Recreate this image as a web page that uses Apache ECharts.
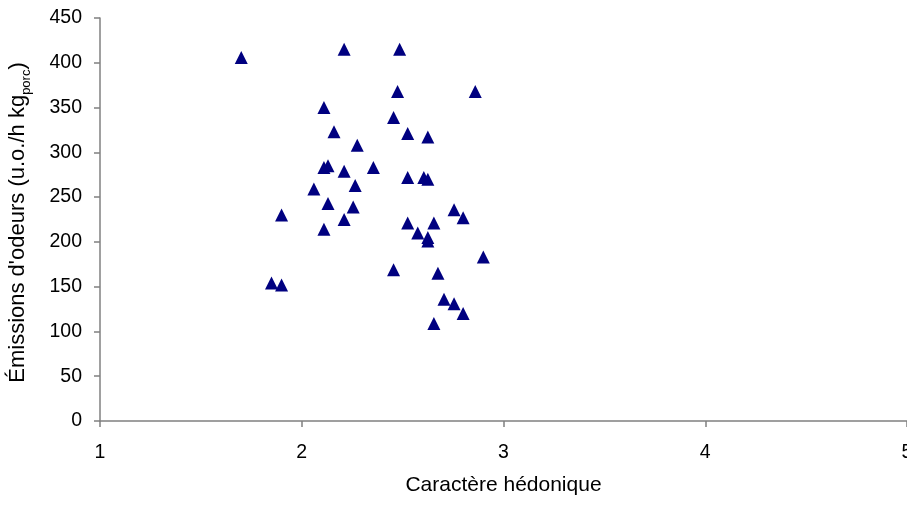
<!DOCTYPE html>
<html>
<head>
<meta charset="utf-8">
<script src="https://cdn.jsdelivr.net/npm/echarts@6/dist/echarts.min.js"></script>
<style>
html,body{margin:0;padding:0;background:#fff;}
#c{width:907px;height:520px;}
</style>
</head>
<body>
<div id="c"></div>
<script>
// Data
const hedonic = [1.70, 2.21, 2.485, 2.475, 2.86, 2.11, 2.455, 2.16, 2.525, 2.625,
  2.275, 2.11, 2.13, 2.21, 2.355, 2.525, 2.605, 2.625, 2.06, 2.265,
  2.13, 2.255, 2.755, 2.80, 1.90, 2.21, 2.11, 2.525, 2.655, 2.575,
  2.625, 2.625, 2.90, 2.455, 2.675, 1.85, 1.90, 2.705, 2.755, 2.80, 2.655];
const emissions = [406, 415, 415, 368, 368, 350, 339, 323, 321, 317,
  308, 283, 285, 279, 283, 272, 272, 270, 259, 263,
  243, 239, 236, 227, 230, 225, 214, 221, 221, 210,
  205, 201, 183, 169, 165, 154, 152, 136, 131, 120, 109];
const xTicks = [1, 2, 3, 4, 5];
const yTicks = [0, 50, 100, 150, 200, 250, 300, 350, 400, 450];
const xTitle = 'Caractère hédonique';
const yTitleMain = "Émissions d'odeurs (u.o./h kg";
const yTitleSub = 'porc';

const points = hedonic.map((x, i) => [x, emissions[i]]);
const font = "'Liberation Sans', Arial, sans-serif";
const axisLine = {show: true, lineStyle: {color: '#808080', width: 1.5}};
const axisTick = {show: true, inside: false, length: 6, lineStyle: {color: '#808080', width: 1.5}};

const chart = echarts.init(document.getElementById('c'), null, {renderer: 'canvas'});
chart.setOption({
  animation: false,
  backgroundColor: '#ffffff',
  grid: {left: 100, right: 0, top: 18, bottom: 99, containLabel: false, outerBoundsMode: 'none'},
  xAxis: {
    type: 'value',
    min: xTicks[0], max: xTicks[xTicks.length - 1], interval: 1,
    axisLine: axisLine, axisTick: axisTick,
    splitLine: {show: false},
    axisLabel: {color: '#000', fontFamily: font, fontSize: 19.5, margin: 22},
    name: xTitle, nameLocation: 'middle', nameGap: 54,
    nameTextStyle: {color: '#000', fontFamily: font, fontSize: 21}
  },
  yAxis: {
    type: 'value',
    min: yTicks[0], max: yTicks[yTicks.length - 1], interval: 50,
    axisLine: axisLine, axisTick: axisTick,
    splitLine: {show: false},
    axisLabel: {color: '#000', fontFamily: font, fontSize: 19.5, margin: 18},
    name: '{a|' + yTitleMain + '}{s|' + yTitleSub + '}{a|)}',
    nameLocation: 'middle', nameGap: 67,
    nameTextStyle: {
      color: '#000', fontFamily: font, fontSize: 22,
      padding: [0, 6, 0, 0],
      rich: {
        a: {fontFamily: font, fontSize: 22, color: '#000', lineHeight: 30, verticalAlign: 'middle'},
        s: {fontFamily: font, fontSize: 13, color: '#000', lineHeight: 14, verticalAlign: 'bottom'}
      }
    }
  },
  series: [{
    type: 'scatter',
    data: points,
    symbol: 'triangle',
    symbolSize: 13,
    itemStyle: {color: '#000080', opacity: 1}
  }]
});
</script>
</body>
</html>
